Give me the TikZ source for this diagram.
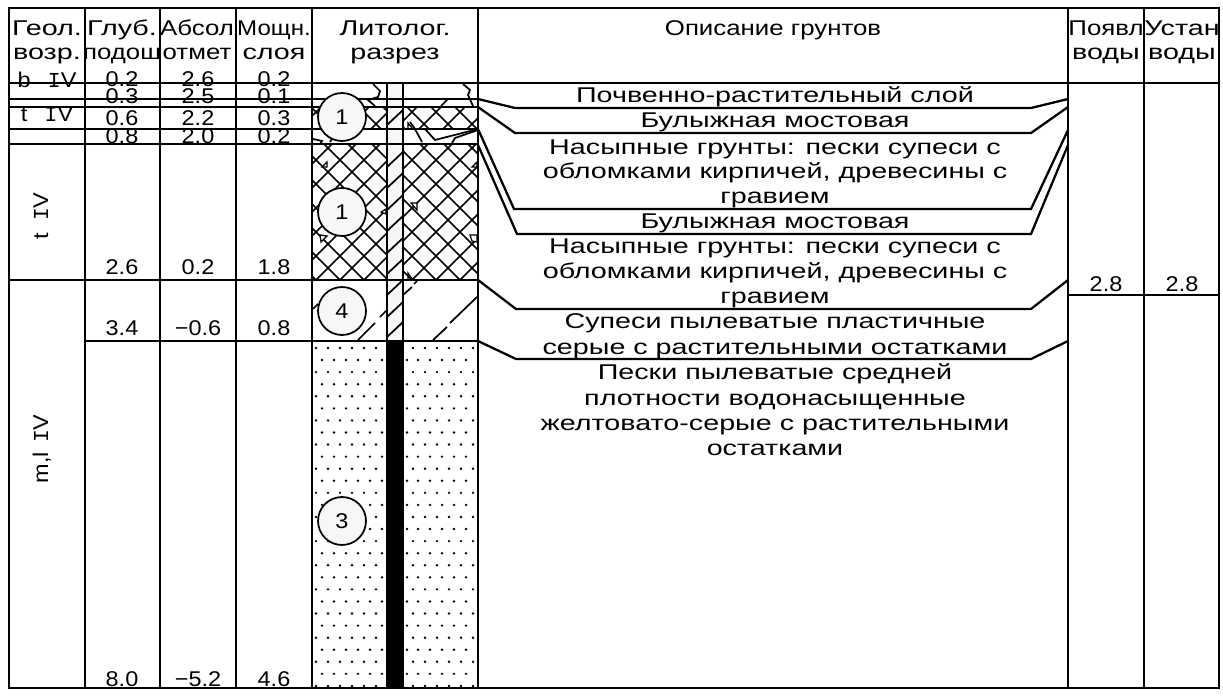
\documentclass[tikz,border=0pt]{standalone}
\usepackage{fontspec}
\newfontfamily\cad[FakeStretch=1.345]{Liberation Sans}
\newfontfamily\cadm[FakeStretch=1.21]{Liberation Sans}
\newfontfamily\cadn[FakeStretch=1.13]{Liberation Sans}
\newfontfamily\cadd[FakeStretch=1.1]{Liberation Sans}
\newfontfamily\cadi{Liberation Mono}
\newcommand{\romIV}{{\cadi I}V}
\tikzset{
  heavy/.style={line width=1.7pt,line join=miter},
  thin hatch/.style={line width=1.3pt},
  txt/.style={font=\cad\fontsize{16}{18}\selectfont,inner sep=0pt,anchor=base,text=black},
  num/.style={font=\cadd\fontsize{16}{18}\selectfont,inner sep=0pt,anchor=base,text=black},
  bub/.style={circle,draw=black,line width=1.3pt,fill=black!3,minimum size=36pt,inner sep=0pt,font=\fontsize{16}{18}\selectfont\cadd},
}
\begin{document}
\begin{tikzpicture}[x=0.75pt,y=-0.75pt]
\useasboundingbox (0,0) rectangle (1223,698);
\fill[white] (0,0) rectangle (1223,698);
% well column
\fill[black!3] (387,83) rectangle (403,341);
\fill[black] (387,341) rectangle (403,688);
\draw[thin hatch] foreach \y in {125,167,188,210,231,253,274,295,317,337} {(387,\y) -- (403,\y-15)};
% cross hatch
\begin{scope}
\clip (312,107) rectangle (387,129) (312,144) rectangle (387,280) (403,107) rectangle (478,129) (403,144) rectangle (478,280);
\draw[thin hatch] foreach \k in {-8,...,24} {(60+24*\k,0) -- (60+24*\k+400,400)};
\draw[thin hatch] foreach \k in {-2,...,36} {(28+24*\k,400) -- (28+24*\k+400,0)};
\end{scope}
% dots
\foreach \n in {0,...,28}{
  \pgfmathsetmacro\yy{348+12.07*\n}
  \ifodd\n
    \foreach \x in {322,334,346,358,370,382,407,418,430,442,454,466}{\fill (\x,\yy) circle (1pt);}
  \else
    \foreach \x in {316,328,340,352,364,376,413,425,437,449,461,473}{\fill (\x,\yy) circle (1pt);}
  \fi
}
% broken fragments
\draw[thin hatch] (373,84) -- (380,91) -- (378,97) -- (368,100) -- (375,106);
\draw[thin hatch] (463,84) -- (470,90) -- (468,95) -- (473,106);
\draw[thin hatch] (448,99) -- (441,106);
\draw[thin hatch] (410,122) -- (415,129) -- (422,142);
\draw[thin hatch] (425,129) -- (435,140) -- (478,129);
\draw[thin hatch] (452,143) -- (455,138) -- (478,130);
\draw[thin hatch] (313,139) -- (322,141) -- (320,144);
\draw[thin hatch] (330,142) -- (332,139);
\draw[thin hatch] (358,340) -- (375,323) (380,317) -- (386,311);
\draw[thin hatch] (313,309) -- (318,304);
\draw[thin hatch] (433,340) -- (447,327) (450,323) -- (477,297);
\draw[thin hatch] (403,295) -- (412,287) (414,284) -- (417,281);
% small marks
\draw[line width=0.9pt,fill=white] (322,167) -- (327,162) -- (327,167) -- cycle;
\draw[line width=0.9pt,fill=white] (472,167) -- (477,162) -- (477,167) -- cycle;
\draw[line width=0.9pt,fill=white] (411,203) -- (417,203) -- (417,210) -- cycle;
\draw[line width=0.9pt,fill=white] (320,235) -- (327,236) -- (321,242) -- cycle;
\draw[line width=0.9pt,fill=white] (470,235) -- (477,235) -- (477,242) -- (472,241) -- cycle;
\draw[line width=0.9pt,fill=white] (381,212) -- (386,209) -- (386,214) -- cycle;
\draw[line width=0.9pt] (408,280) -- (408,273) -- (413,280);
\draw[line width=0.9pt] (408,129) -- (408,123) -- (412,128);
% grid
\draw[heavy] (9,8) rectangle (1219,688);
\draw[heavy] foreach \x in {85,160,236,312,478,1068,1144} {(\x,8) -- (\x,688)};
\draw[heavy] (387,83) -- (387,688) (403,83) -- (403,688);
\draw[heavy] (9,83) -- (1219,83);
\draw[heavy] (9,99) -- (478,99) (9,107) -- (478,107) (9,129) -- (478,129) (9,144) -- (478,144);
\draw[heavy] (9,280) -- (478,280) (85,341) -- (478,341) (1068,295) -- (1219,295);
% leaders
\draw[heavy] (478,99) -- (515,108) -- (1031,108) -- (1068,99);
\draw[heavy] (478,107) -- (515,133) -- (1031,133) -- (1068,107);
\draw[heavy] (478,129) -- (514,209) -- (1031,209) -- (1068,130);
\draw[heavy] (478,145) -- (517,234) -- (1031,234) -- (1068,145);
\draw[heavy] (478,280) -- (516,309) -- (1031,309) -- (1068,280);
\draw[heavy] (478,341) -- (516,359) -- (1031,359) -- (1068,341);
% circles
\node[bub] (b1) at (342,117) {1};
\node[bub] (b2) at (342,212) {1};
\node[bub] (b4) at (342,311) {4};
\node[bub] (b3) at (342,521) {3};
% header
\node[txt] (h1a) at (47,36) {Геол.};
\node[txt] (h1b) at (47,60) {возр.};
\node[txt] (h2a) at (122,36) {Глуб.};
\node[txt,font=\cadm\fontsize{16}{18}\selectfont] (h2b) at (122,60) {подош};
\node[txt,font=\cadm\fontsize{16}{18}\selectfont] (h3a) at (197,36) {Абсол};
\node[txt,font=\cadm\fontsize{16}{18}\selectfont] (h3b) at (197,60) {отмет};
\node[txt,font=\cadn\fontsize{16}{18}\selectfont] (h4a) at (274,36) {Мощн.};
\node[txt] (h4b) at (274,60) {слоя};
\node[txt] (h5a) at (395,36) {Литолог.};
\node[txt] (h5b) at (395,60) {разрез};
\node[txt,font=\cadm\fontsize{16}{18}\selectfont] (h6) at (773,36) {Описание грунтов};
\node[txt,font=\cadm\fontsize{16}{18}\selectfont] (h7a) at (1106,36) {Появл};
\node[txt] (h7b) at (1106,60) {воды};
\node[txt] (h8a) at (1182,36) {Устан};
\node[txt] (h8b) at (1182,60) {воды};
% values
\node[num] (v1a) at (122,87) {0.2}; \node[num] (v1b) at (198,87) {2.6}; \node[num] (v1c) at (274,87) {0.2};
\node[num] (v2a) at (122,104) {0.3}; \node[num] (v2b) at (198,104) {2.5}; \node[num] (v2c) at (274,104) {0.1};
\node[num] (v3a) at (122,126) {0.6}; \node[num] (v3b) at (198,126) {2.2}; \node[num] (v3c) at (274,126) {0.3};
\node[num] (v4a) at (122,144) {0.8}; \node[num] (v4b) at (198,144) {2.0}; \node[num] (v4c) at (274,144) {0.2};
\node[num] (v5a) at (122,275) {2.6}; \node[num] (v5b) at (198,275) {0.2}; \node[num] (v5c) at (274,275) {1.8};
\node[num] (v6a) at (122,335) {3.4}; \node[num] (v6b) at (198,335) {−0.6}; \node[num] (v6c) at (274,335) {0.8};
\node[num] (v7a) at (122,686) {8.0}; \node[num] (v7b) at (198,686) {−5.2}; \node[num] (v7c) at (274,686) {4.6};
\node[num] (w1) at (1106,292) {2.8};
\node[num] (w2) at (1182,292) {2.8};
\node[num] (g1) at (47,88) {b\hspace{13pt}\romIV};
\node[num] (g2) at (47,122) {t\hspace{13pt}\romIV};
\node[num,rotate=90] (g3) at (48,216) {t\hspace{9pt}\romIV};
\node[num,rotate=90] (g4) at (48,449) {m,l\hspace{7pt}\romIV};
% description
\node[txt] (d1) at (775,103) {Почвенно-растительный слой};
\node[txt] (d2) at (775,128) {Булыжная мостовая};
\node[txt] (d3) at (775,155) {Насыпные грунты: пески супеси с};
\node[txt] (d4) at (775,179) {обломками кирпичей, древесины с};
\node[txt] (d5) at (775,204) {гравием};
\node[txt] (d6) at (775,229) {Булыжная мостовая};
\node[txt] (d7) at (775,254) {Насыпные грунты: пески супеси с};
\node[txt] (d8) at (775,279) {обломками кирпичей, древесины с};
\node[txt] (d9) at (775,304) {гравием};
\node[txt] (d10) at (775,329) {Супеси пылеватые пластичные};
\node[txt] (d11) at (775,354) {серые с растительными остатками};
\node[txt] (d12) at (775,379) {Пески пылеватые средней};
\node[txt] (d13) at (775,405) {плотности водонасыщенные};
\node[txt] (d14) at (775,430) {желтовато-серые с растительными};
\node[txt] (d15) at (775,455) {остатками};
\end{tikzpicture}
\end{document}
